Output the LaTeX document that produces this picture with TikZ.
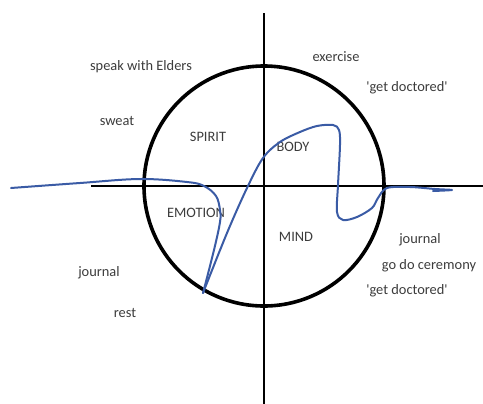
\documentclass[tikz,border=0pt]{standalone}
\usepackage{fontspec}
\setmainfont{Carlito}
\usepackage{tikz}
\definecolor{ink}{HTML}{3C3C3C}
\definecolor{wave}{HTML}{3A5BA5}
\newcommand{\sq}{\textquotesingle}

\begin{document}
\begin{tikzpicture}[x=0.75pt,y=-0.75pt,
 lbl/.style={text=ink,inner sep=0pt,font=\fontsize{10.8}{13}\selectfont},
 axis/.style={line width=1.6pt,black},
 wheel/.style={line width=2.7pt,black},
 flow/.style={draw=wave,line width=1.5pt,line join=round,line cap=round}]
 \useasboundingbox (0,0) rectangle (483,404);
 % axes and circle
 \coordinate (o) at (264,186);
 \draw[axis] (264,13) -- (264,404);
 \draw[axis] (91,186) -- (483,186);
 \draw[wheel] (o) circle[radius=120];
 % quadrant names
 \node[lbl] (spirit) at (208,137) {SPIRIT};
 \node[lbl] (body) at (293,147) {BODY};
 \node[lbl] (emotion) at (196,213) {EMOTION};
 \node[lbl] (mind) at (296,237) {MIND};
 % things to do
 \node[lbl] (elders) at (141,67) {speak with Elders};
 \node[lbl] (sweat) at (117,121) {sweat};
 \node[lbl] (exercise) at (336,57) {exercise};
 \node[lbl] (doc1) at (407,88) {\sq get doctored\sq};
 \node[lbl] (journalr) at (420,240) {journal};
 \node[lbl] (ceremony) at (429,266) {go do ceremony};
 \node[lbl] (doc2) at (407,291) {\sq get doctored\sq};
 \node[lbl] (journall) at (99,273) {journal};
 \node[lbl] (rest) at (125,313) {rest};
 % the wave
 \draw[flow] plot[smooth,tension=0.6] coordinates {(11,188) (80,183) (140,179) (187,182) (204,186) (216,196) (220,210) (220,222) (214,250) (203,293)};
 \draw[flow] plot[smooth,tension=0.55] coordinates {(203,293) (227,233) (247,188) (263,158) (280,142) (300,132) (317,126) (333,125) (339,130) (340,145) (338,185) (337,212) (343,220) (357,217) (372,208) (378,198) (387,188) (410,187) (435,189) (452,190) (433,191)};
\end{tikzpicture}
\end{document}
